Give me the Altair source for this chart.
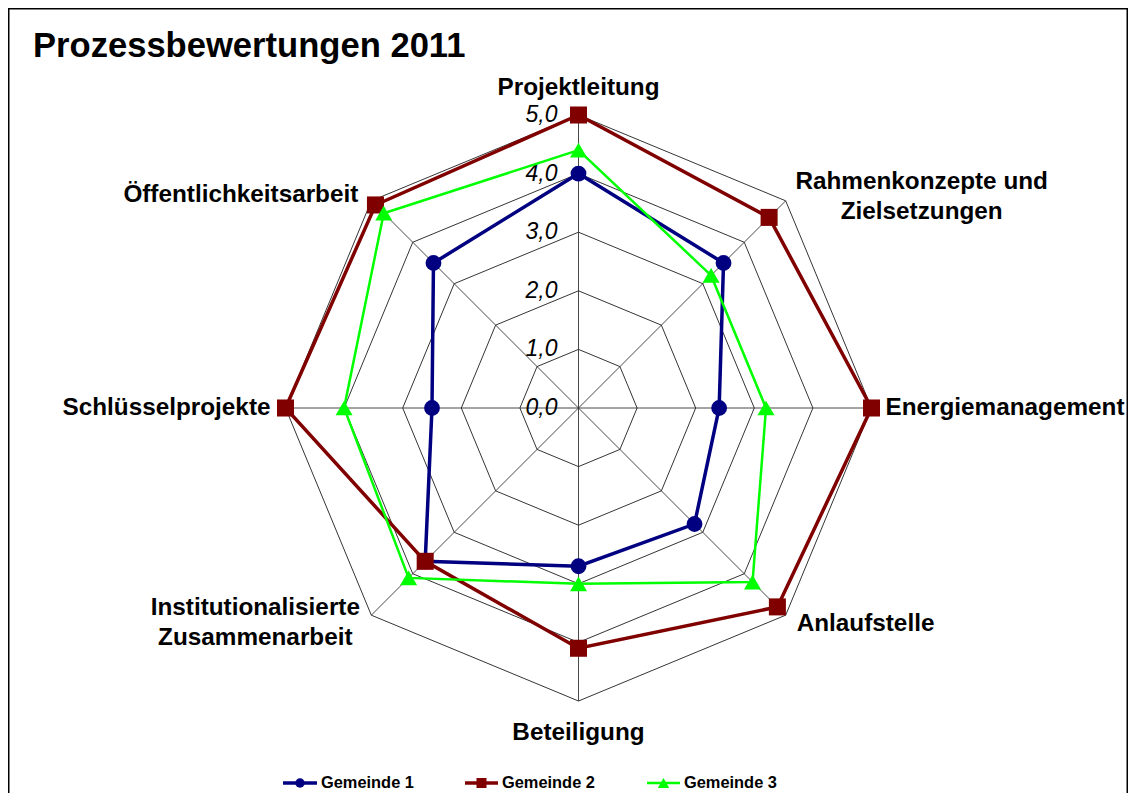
import altair as alt
import pandas as pd

# ---------------- data ----------------
title_text = "Prozessbewertungen 2011"
categories = [
    "Projektleitung",
    "Rahmenkonzepte und Zielsetzungen",
    "Energiemanagement",
    "Anlaufstelle",
    "Beteiligung",
    "Institutionalisierte Zusammenarbeit",
    "Schlüsselprojekte",
    "Öffentlichkeitsarbeit",
]
category_labels = [
    "Projektleitung",
    "Rahmenkonzepte und\nZielsetzungen",
    "Energiemanagement",
    "Anlaufstelle",
    "Beteiligung",
    "Institutionalisierte\nZusammenarbeit",
    "Schlüsselprojekte",
    "Öffentlichkeitsarbeit",
]
series_names = ["Gemeinde 1", "Gemeinde 2", "Gemeinde 3"]
gemeinde_1 = [4.0, 3.5, 2.4, 2.8, 2.7, 3.7, 2.5, 3.5]
gemeinde_2 = [5.0, 4.6, 5.0, 4.8, 4.1, 3.7, 5.0, 4.9]
gemeinde_3 = [4.4, 3.2, 3.2, 4.2, 3.0, 4.1, 4.0, 4.7]
rings = [1, 2, 3, 4, 5]
tick_values = [0, 1, 2, 3, 4, 5]
tick_labels = ["0,0", "1,0", "2,0", "3,0", "4,0", "5,0"]

# ---------------- layout / style ----------------
N = len(categories)
RMAX = max(rings)
W, H = 1120, 785
PX = 58.6          # pixels per unit
CX, CY = 570.5, 400.0
FONT = "Liberation Sans"
ANG = f"datum.idx * 2 * PI / {N}"

XS = alt.Scale(domain=[-CX / PX, (W - CX) / PX], nice=False, zero=False)
YS = alt.Scale(domain=[-(H - CY) / PX, CY / PX], nice=False, zero=False)


def X(f="x"):
    return alt.X(f + ":Q", scale=XS, axis=None)


def Y(f="y"):
    return alt.Y(f + ":Q", scale=YS, axis=None)


layers = []

# grid rings (octagons)
ring_df = pd.DataFrame(
    [{"ring": r, "idx": k} for r in rings for k in range(N + 1)]
)
layers.append(
    alt.Chart(ring_df)
    .transform_calculate(angle=ANG)
    .transform_calculate(x="datum.ring * sin(datum.angle)")
    .transform_calculate(y="datum.ring * cos(datum.angle)")
    .mark_line(color="black", strokeWidth=0.8)
    .encode(x=X(), y=Y(), detail="ring:N", order="idx:Q")
)

# spokes
spoke_df = pd.DataFrame({"idx": list(range(N))})
layers.append(
    alt.Chart(spoke_df)
    .transform_calculate(angle=ANG)
    .transform_calculate(x0="0", y0="0")
    .transform_calculate(x2=f"{RMAX} * sin(datum.angle)")
    .transform_calculate(y2=f"{RMAX} * cos(datum.angle)")
    .mark_rule(color="#333333", strokeWidth=0.9)
    .encode(x=X("x0"), y=Y("y0"), x2="x2:Q", y2="y2:Q")
)

# tick labels
tick_df = pd.DataFrame({"value": tick_values, "label": tick_labels})
layers.append(
    alt.Chart(tick_df)
    .transform_calculate(x0="0")
    .mark_text(align="right", baseline="middle", dx=-21, fontSize=23,
               fontStyle="italic", font=FONT, color="black")
    .encode(x=X("x0"), y=Y("value"), text="label:N")
)

# series
series_vals = [gemeinde_1, gemeinde_2, gemeinde_3]
colors = ["#000080", "#800000", "#00FF00"]
shapes = ["circle", "square", "triangle-up"]
sizes = [250, 290, 290]
widths = [3.5, 3.5, 2.5]
for name, vals, col, shp, sz, sw in zip(series_names, series_vals, colors, shapes, sizes, widths):
    df = pd.DataFrame(
        {"series": name, "idx": list(range(N + 1)),
         "value": [vals[k % N] for k in range(N + 1)]}
    )
    base = (
        alt.Chart(df)
        .transform_calculate(angle=ANG)
        .transform_calculate(x="datum.value * sin(datum.angle)")
        .transform_calculate(y="datum.value * cos(datum.angle)")
    )
    layers.append(
        base.mark_line(color=col, strokeWidth=sw).encode(x=X(), y=Y(), order="idx:Q")
    )
    layers.append(
        base.transform_filter(f"datum.idx < {N}")
        .mark_point(filled=True, shape=shp, size=sz, color=col, opacity=1)
        .encode(x=X(), y=Y())
    )

# category labels: (align, dx, dy)
label_style = [
    ("center", 0, -27),
    ("center", 136, -19),
    ("left", 14, 0),
    ("left", 11, 9),
    ("center", 0, 32),
    ("center", -116, -7),
    ("right", -15, 0),
    ("right", -13, -6),
]
for i, (al, dx, dy) in enumerate(label_style):
    ldf = pd.DataFrame({"idx": [i], "label": [category_labels[i]]})
    layers.append(
        alt.Chart(ldf)
        .transform_calculate(angle=ANG)
        .transform_calculate(x=f"{RMAX} * sin(datum.angle)")
        .transform_calculate(y=f"{RMAX} * cos(datum.angle)")
        .mark_text(align=al, baseline="middle", dx=dx, dy=dy, fontSize=24.3,
                   fontWeight="bold", font=FONT, color="black",
                   lineBreak="\n", lineHeight=30)
        .encode(x=X(), y=Y(), text="label:N")
    )

# title
layers.append(
    alt.Chart(pd.DataFrame({"t": [title_text]}))
    .mark_text(align="left", baseline="alphabetic", fontSize=34.6,
               fontWeight="bold", font=FONT, color="black")
    .encode(x=alt.value(25), y=alt.value(49), text="t:N")
)

# legend (manual, so that line and marker are combined)
leg_y = 775
leg_pos = [(275, 309, 292, 313), (457, 490, 473.5, 494), (639, 672, 655.5, 676)]
leg_sizes = [90, 100, 130]
for name, col, shp, sw, lsz, (x0, x1, xm, xt) in zip(series_names, colors, shapes, widths, leg_sizes, leg_pos):
    one = pd.DataFrame({"series": [name]})
    layers.append(
        alt.Chart(one).mark_rule(color=col, strokeWidth=sw)
        .encode(x=alt.value(x0), x2=alt.value(x1), y=alt.value(leg_y))
    )
    layers.append(
        alt.Chart(one).mark_point(filled=True, shape=shp, size=lsz, color=col, opacity=1)
        .encode(x=alt.value(xm), y=alt.value(leg_y))
    )
    layers.append(
        alt.Chart(one).mark_text(align="left", baseline="middle", fontSize=16.4,
                                 fontWeight="bold", font=FONT, color="black")
        .encode(x=alt.value(xt), y=alt.value(leg_y), text="series:N")
    )

# frame (top, left, right)
frame = pd.DataFrame({"f": [0]})
layers.append(alt.Chart(frame).mark_rule(color="black", strokeWidth=1.5)
              .encode(x=alt.value(0), x2=alt.value(W), y=alt.value(0.75)))
layers.append(alt.Chart(frame).mark_rule(color="black", strokeWidth=1.5)
              .encode(x=alt.value(0.75), y=alt.value(0), y2=alt.value(H)))
layers.append(alt.Chart(frame).mark_rule(color="black", strokeWidth=1.5)
              .encode(x=alt.value(W - 0.75), y=alt.value(0), y2=alt.value(H)))

chart = (
    alt.layer(*layers)
    .properties(width=W, height=H, padding=0,
                autosize=alt.AutoSizeParams(type="none"),
                background="white")
    .configure_view(stroke=None)
)

chart.save("out.html", embed_options={"renderer": "svg", "actions": False})
